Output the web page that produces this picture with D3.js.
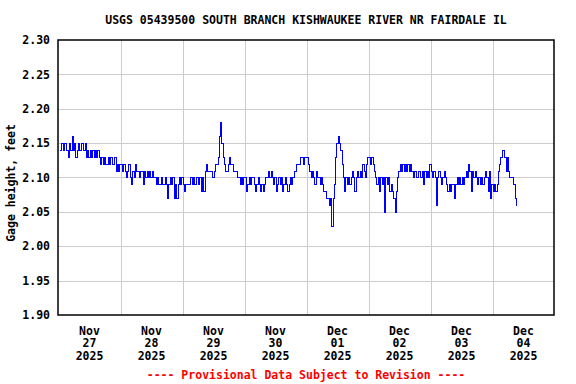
<!DOCTYPE html>
<html>
<head>
<meta charset="utf-8">
<script src="https://cdn.jsdelivr.net/npm/d3@7"></script>
<style>
  body { margin: 0; background: #fff; }
  text { font-family: "DejaVu Sans Mono", monospace; font-weight: bold; }
</style>
</head>
<body>
<div id="main"></div>
<script>
// gage height, feet, every 30 minutes starting at 00:00 of each day
const nov27 = [2.14,2.14,2.15,2.14,2.15,2.15,2.14,2.13,2.15,2.14,2.16,2.14,2.15,2.13,2.14,2.15,
  2.14,2.15,2.15,2.14,2.15,2.13,2.14,2.13,2.14,2.13,2.14,2.13,2.14,2.13,2.14,2.13,
  2.12,2.13,2.12,2.13,2.12,2.12,2.13,2.12,2.13,2.12,2.12,2.13,2.11,2.12,2.11,2.12];
const nov28 = [2.12,2.11,2.12,2.11,2.10,2.11,2.12,2.10,2.09,2.11,2.10,2.12,2.11,2.11,2.10,2.11,
  2.11,2.09,2.11,2.10,2.11,2.10,2.11,2.10,2.11,2.10,2.10,2.09,2.10,2.09,2.09,2.10,
  2.09,2.09,2.10,2.09,2.07,2.09,2.10,2.09,2.10,2.07,2.09,2.07,2.09,2.10,2.09,2.10];
const nov29 = [2.09,2.08,2.09,2.09,2.09,2.09,2.10,2.09,2.10,2.09,2.10,2.10,2.09,2.10,2.08,2.10,
  2.08,2.11,2.12,2.11,2.11,2.11,2.11,2.10,2.11,2.12,2.12,2.13,2.16,2.18,2.15,2.13,
  2.12,2.11,2.11,2.12,2.13,2.12,2.12,2.11,2.11,2.11,2.10,2.10,2.09,2.10,2.09,2.10];
const nov30 = [2.10,2.08,2.09,2.10,2.09,2.10,2.10,2.09,2.08,2.09,2.10,2.09,2.08,2.09,2.08,2.09,
  2.10,2.10,2.11,2.10,2.11,2.10,2.09,2.10,2.08,2.09,2.10,2.09,2.10,2.08,2.09,2.10,
  2.09,2.08,2.09,2.10,2.09,2.10,2.11,2.11,2.12,2.12,2.12,2.13,2.13,2.12,2.13,2.13];
const dec01 = [2.13,2.12,2.11,2.10,2.11,2.10,2.09,2.11,2.10,2.10,2.09,2.10,2.09,2.08,2.08,2.07,
  2.07,2.06,2.07,2.03,2.07,2.09,2.13,2.15,2.16,2.15,2.14,2.12,2.10,2.08,2.10,2.09,
  2.10,2.09,2.10,2.11,2.10,2.08,2.10,2.11,2.10,2.11,2.10,2.12,2.11,2.10,2.12,2.13];
const dec02 = [2.13,2.12,2.13,2.12,2.11,2.10,2.09,2.10,2.08,2.10,2.09,2.10,2.05,2.10,2.09,2.10,
  2.08,2.09,2.08,2.07,2.05,2.08,2.10,2.11,2.12,2.11,2.12,2.11,2.12,2.11,2.12,2.11,
  2.12,2.11,2.10,2.11,2.11,2.10,2.11,2.11,2.10,2.11,2.09,2.11,2.10,2.11,2.10,2.12];
const dec03 = [2.11,2.10,2.11,2.10,2.06,2.10,2.11,2.10,2.09,2.10,2.11,2.10,2.09,2.08,2.09,2.08,
  2.09,2.09,2.07,2.09,2.10,2.09,2.10,2.09,2.10,2.09,2.10,2.11,2.10,2.12,2.11,2.08,
  2.11,2.10,2.11,2.10,2.09,2.10,2.09,2.10,2.09,2.10,2.11,2.10,2.08,2.11,2.07,2.09];
const dec04 = [2.08,2.09,2.08,2.09,2.11,2.12,2.13,2.14,2.14,2.13,2.11,2.13,2.11,2.10,2.10,2.10,
  2.09,2.07,2.06];

const yTicks = [1.90, 1.95, 2.00, 2.05, 2.10, 2.15, 2.20, 2.25, 2.30];
const tickMonths = ["Nov", "Nov", "Nov", "Nov", "Dec", "Dec", "Dec", "Dec"];
const tickDays = ["27", "28", "29", "30", "01", "02", "03", "04"];
const tickYears = ["2025", "2025", "2025", "2025", "2025", "2025", "2025", "2025"];

const width = 576;
const height = 384;
const margin = { top: 40, right: 22, bottom: 69, left: 58 };

const start = Date.UTC(2025, 10, 27);
const dayMs = 86400000;
const step = 30 * 60 * 1000;

const series = [nov27, nov28, nov29, nov30, dec01, dec02, dec03, dec04];
const values = [];
series.forEach((day, d) => {
  day.forEach((v, k) => {
    values.push({ t: new Date(start + d * dayMs + k * step), v: v });
  });
});

const svg = d3.select("#main").append("svg").attr("width", width).attr("height", height);

const xScale = d3
  .scaleUtc()
  .domain([new Date(start), new Date(start + 8 * dayMs)])
  .range([margin.left + 0.7, width - margin.right + 0.7]);

const yScale = d3
  .scaleLinear()
  .domain([1.9, 2.3])
  .range([height - margin.bottom, margin.top]);

// grid
const dayLines = d3.range(1, 8).map((d) => new Date(start + d * dayMs));
svg
  .append("g")
  .selectAll("line")
  .data(dayLines)
  .enter()
  .append("line")
  .attr("x1", (d) => Math.round(xScale(d)) + 0.5)
  .attr("x2", (d) => Math.round(xScale(d)) + 0.5)
  .attr("y1", margin.top)
  .attr("y2", height - margin.bottom)
  .attr("stroke", "#cccccc");

svg
  .append("g")
  .selectAll("line")
  .data(yTicks.slice(1, -1))
  .enter()
  .append("line")
  .attr("x1", margin.left)
  .attr("x2", width - margin.right)
  .attr("y1", (d) => Math.round(yScale(d)) + 0.5)
  .attr("y2", (d) => Math.round(yScale(d)) + 0.5)
  .attr("stroke", "#cccccc");

// data line
const line = d3
  .line()
  .x((d) => Math.round(xScale(d.t)) + 0.5)
  .y((d) => Math.round(yScale(d.v)) + 0.5)
  .curve(d3.curveStepAfter);

svg
  .append("path")
  .datum(values)
  .attr("d", line)
  .attr("fill", "none")
  .attr("stroke", "#0000ff")
  .attr("stroke-width", 1)
  .attr("shape-rendering", "crispEdges");

// frame
svg
  .append("rect")
  .attr("x", margin.left)
  .attr("y", margin.top)
  .attr("width", width - margin.left - margin.right)
  .attr("height", height - margin.top - margin.bottom)
  .attr("fill", "none")
  .attr("stroke", "black")
  .attr("stroke-width", 1.5);

// y axis
const yAxis = d3.axisLeft(yScale).tickValues(yTicks).tickFormat(d3.format(".2f")).tickSize(0).tickPadding(8);
const gy = svg.append("g").attr("transform", `translate(${margin.left}, 0)`).call(yAxis);
gy.select(".domain").remove();
gy.selectAll("text").style("font-size", "11.5px").attr("fill", "black");

// x axis, labels at noon
const noon = d3.range(0, 8).map((d) => new Date(start + d * dayMs + dayMs / 2));
const xAxis = d3.axisBottom(xScale).tickValues(noon).tickFormat("").tickSize(0);
const gx = svg.append("g").attr("transform", `translate(-0.7, ${height - margin.bottom})`).call(xAxis);
gx.select(".domain").remove();
gx.selectAll(".tick text").each(function (d, i) {
  const t = d3.select(this).attr("y", 0).attr("dy", null).style("font-size", "11.5px").attr("fill", "black");
  t.append("tspan").attr("x", 0).attr("y", 19.5).text(tickMonths[i]);
  t.append("tspan").attr("x", 0).attr("y", 32).text(tickDays[i]);
  t.append("tspan").attr("x", 0).attr("y", 44.5).text(tickYears[i]);
});

// titles
svg
  .append("text")
  .attr("x", 306)
  .attr("y", 24)
  .attr("text-anchor", "middle")
  .style("font-size", "11.5px")
  .text("USGS 05439500 SOUTH BRANCH KISHWAUKEE RIVER NR FAIRDALE IL");

svg
  .append("text")
  .attr("transform", "translate(15, 183) rotate(-90)")
  .attr("text-anchor", "middle")
  .style("font-size", "11.5px")
  .text("Gage height, feet");

svg
  .append("text")
  .attr("x", 306)
  .attr("y", 379)
  .attr("text-anchor", "middle")
  .attr("fill", "#ff0000")
  .style("font-size", "11.5px")
  .text("---- Provisional Data Subject to Revision ----");
</script>
</body>
</html>
